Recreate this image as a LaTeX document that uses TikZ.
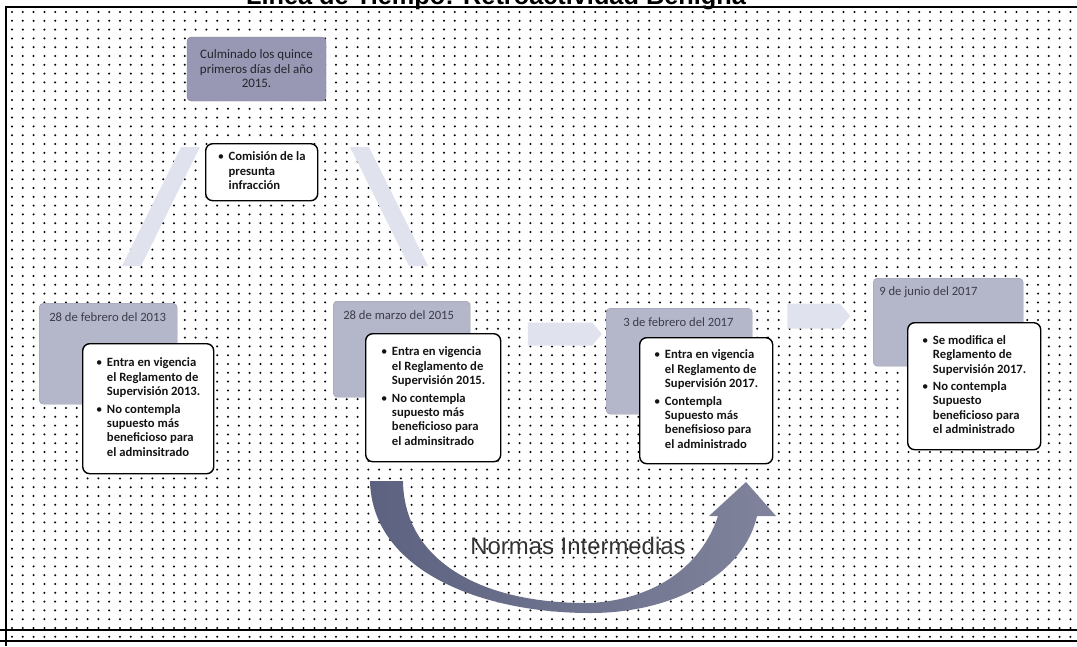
\documentclass[tikz,border=0pt]{standalone}
\usepackage{fontspec}
\setmainfont{Carlito}
\newfontfamily\arialfont{Liberation Sans}
\usetikzlibrary{shapes.arrows}
\definecolor{datebg}{RGB}{180,182,202}
\definecolor{topbg}{RGB}{152,152,180}
\definecolor{pale}{RGB}{224,227,237}
\definecolor{arcdark}{RGB}{92,98,128}
\definecolor{arcmid}{RGB}{165,168,186}
\definecolor{arcright}{RGB}{128,131,155}
\definecolor{datetxt}{RGB}{60,60,74}
\definecolor{bodytxt}{RGB}{20,20,20}
\newdimen\pxu \pxu=0.025cm
\newcommand{\bitems}[1]{\begin{tabular}{@{}l@{\hspace{3.2pt}}l@{}}#1\end{tabular}}
\newcommand{\bdot}{{\mdseries\textbullet}}
\begin{document}
\begin{tikzpicture}[x=0.025cm,y=-0.025cm]
\tikzstyle{datebox} = [draw=datebg!85!black,line width=0.3pt,fill=datebg,rounded corners=3pt,anchor=north west,inner sep=0];
\tikzstyle{whitebox} = [draw=black,line width=1pt,fill=white,rounded corners=5pt,anchor=north west,inner sep=0,font=\bfseries\fontsize{9}{10.3}\selectfont,text=bodytxt];
\tikzstyle{datelabel} = [anchor=west,inner sep=0,font=\fontsize{9}{10.3}\selectfont,text=datetxt];
\useasboundingbox (0,0) rectangle (1077,646);
\clip (0,0) rectangle (1077,646);
% dotted page
\foreach \i in {0,...,98}{
	\fill[black] \foreach \j in {0,...,71}{(12+\i*10.8,12+\j*8.8) circle (0.8pt)};
}
\draw[line width=0.8pt] (6,646) -- (6,7) -- (1080,7);
\draw[line width=0.8pt] (0,630) -- (1077,630) (0,641) -- (1077,641);
\node[font=\arialfont\bfseries\fontsize{18}{20}\selectfont,anchor=base] (title) at (496,4) {Línea de Tiempo: Retroactividad Benigna};
% pale arrows
\fill[pale] (122,266) -- (141,266) -- (200,147) -- (181,147) -- cycle;
\fill[pale] (350,147) -- (369,147) -- (428,266) -- (409,266) -- cycle;
\node[single arrow,fill=pale,single arrow head extend=0pt,single arrow tip angle=100,inner sep=0,minimum width=23\pxu,minimum height=74\pxu] (a_1) at (560,334) {};
\node[single arrow,fill=pale,single arrow head extend=0pt,single arrow tip angle=100,inner sep=0,minimum width=25\pxu,minimum height=63\pxu] (a_2) at (813.5,316) {};
\node[fill=topbg,draw=topbg!80!black,line width=0.3pt,rounded corners=3pt,minimum width=139\pxu,minimum height=64\pxu,align=center,font=\fontsize{9.2}{10.3}\selectfont,text=datetxt!60!black] (cul) at (256.5,69) {Culminado los quince\\primeros días del año\\2015.};
\node[whitebox,minimum width=112\pxu,minimum height=57\pxu] (com) at (205,143) {\bitems{\bdot&Comisión de la\\&presunta\\&infracción}};
\foreach \n/\x/\y/\w/\h/\lx/\ly/\t in {13/39/303/138/101/49/317/28 de febrero del 2013, 15/333/301/137/96/343/315/28 de marzo del 2015, 17/606/308/146/106/623/322/3 de febrero del 2017, 17b/873/278/150/88/879/292/9 de junio del 2017}{
	\node[datebox,minimum width=\w\pxu,minimum height=\h\pxu] (d_\n) at (\x,\y) {};
	\node[datelabel] (l_\n) at (\lx,\ly) {\t};
}
\node[whitebox,minimum width=131\pxu,minimum height=130\pxu] (w_13) at (82,343) {\bitems{\bdot&Entra en vigencia\\&el Reglamento de\\&Supervisión 2013.\\[2pt]\bdot&No contempla\\&supuesto más\\&beneficioso para\\&el adminsitrado}};
\node[whitebox,minimum width=135\pxu,minimum height=128\pxu] (w_15) at (365,333) {\bitems{\bdot&Entra en vigencia\\&el Reglamento de\\&Supervisión 2015.\\[2pt]\bdot&No contempla\\&supuesto más\\&beneficioso para\\&el adminsitrado}};
\node[whitebox,minimum width=133\pxu,minimum height=126\pxu] (w_17) at (639,337) {\bitems{\bdot&Entra en vigencia\\&el Reglamento de\\&Supervisión 2017.\\[2pt]\bdot&Contempla\\&Supuesto más\\&benefisioso para\\&el administrado}};
\node[whitebox,minimum width=133\pxu,minimum height=127\pxu] (w_17b) at (907,322) {\bitems{\bdot&Se modifica el\\&Reglamento de\\&Supervisión 2017.\\[2pt]\bdot&No contempla\\&Supuesto\\&beneficioso para\\&el administrado}};
% big curved arrow
\shade[left color=arcdark,middle color=arcmid,right color=arcright] (370,481) .. controls (372,570) and (480,613) .. (590,613) .. controls (680,613) and (745,570) .. (757,516) -- (776,516) -- (746,482) -- (709,516) -- (718,516) .. controls (700,570) and (650,600) .. (590,603) .. controls (480,604) and (404,560) .. (403,481) -- cycle;
\node[font=\arialfont\fontsize{17}{20}\selectfont,text=black!80,anchor=base] (ni) at (578,554) {Normas Intermedias};
\end{tikzpicture}
\end{document}
